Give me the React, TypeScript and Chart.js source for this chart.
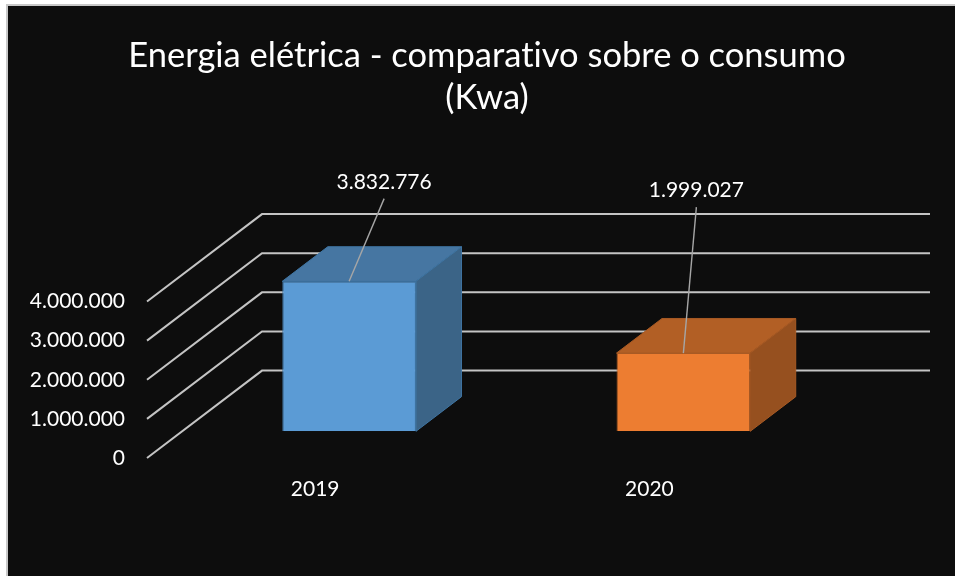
import React, { useEffect, useRef } from "react";
import { Chart, registerables } from "chart.js";

Chart.register(...registerables);

const categories = ["2019", "2020"];
const consumption = [3832776, 1999027];
const yTicks = [0, 1000000, 2000000, 3000000, 4000000];
const titleLines = ["Energia elétrica - comparativo sobre o consumo", "(Kwa)"];
const frontColors = ["#5B9BD5", "#ED7D31"];
const topColors = ["#4676A2", "#B25F25"];
const sideColors = ["#3B6487", "#96501F"];
const edgeColors = ["#3F75A3", "#A85A24"];

const FONT = "Lato, Carlito, Calibri, sans-serif";
const fmt = (v: number) => v.toLocaleString("de-DE");

const GRID = { frontDx: -35, frontDy: 26.7, backDx: 80, backDy: -60.7, rightPad: 79.5 };
const BAR_DEPTH = { dx: 45.5, dy: -34.6 };
const LEADERS = [
  { dx: 35, dy: -82.7, labelDy: -16 },
  { dx: 13, dy: -146, labelDy: -17 },
];
const CATEGORY_LABEL = { dx: -34, y: 489 };
const Y_LABEL_X = 125;

const chart3d = {
  id: "chart3d",
  beforeDraw(chart: any) {
    const { ctx, width, height } = chart;
    ctx.textRendering = "optimizeSpeed";
    ctx.save();
    ctx.fillStyle = "#ffffff";
    ctx.fillRect(0, 0, width, height);
    ctx.fillStyle = "#c8c8c8";
    ctx.fillRect(6, 4, width - 6, height - 4);
    ctx.fillStyle = "#0d0d0d";
    ctx.fillRect(8, 6, width - 8, height - 6);
    ctx.restore();
  },
  afterLayout(chart: any) {
    // centre the title over the chart frame rather than over the plot
    if (chart.titleBlock) {
      chart.titleBlock.left = 7;
      chart.titleBlock.right = 967;
    }
  },
  beforeDatasetsDraw(chart: any) {
    const { ctx, scales, chartArea } = chart;
    const y = scales.y;
    ctx.save();

    // floor / wall gridlines
    ctx.strokeStyle = "#c4c4c4";
    ctx.lineWidth = 2;
    ctx.lineJoin = "miter";
    yTicks.forEach((t) => {
      const py = y.getPixelForValue(t);
      ctx.beginPath();
      ctx.moveTo(chartArea.left + GRID.frontDx, py + GRID.frontDy);
      ctx.lineTo(chartArea.left + GRID.backDx, py + GRID.backDy);
      ctx.lineTo(chartArea.right + GRID.rightPad, py + GRID.backDy);
      ctx.stroke();
    });

    // y tick labels on the front edge
    ctx.fillStyle = "#ffffff";
    ctx.font = `21px ${FONT}`;
    ctx.textAlign = "right";
    ctx.textBaseline = "middle";
    yTicks.forEach((t) => {
      ctx.fillText(fmt(t), Y_LABEL_X, y.getPixelForValue(t) + GRID.frontDy);
    });

    // category labels
    ctx.textAlign = "center";
    const meta = chart.getDatasetMeta(0);
    categories.forEach((c, i) => {
      ctx.fillText(c, meta.data[i].x + CATEGORY_LABEL.dx, CATEGORY_LABEL.y);
    });

    // side and top faces of the bars
    meta.data.forEach((el: any, i: number) => {
      const l = el.x - el.width / 2;
      const r = el.x + el.width / 2;
      const t = el.y;
      const b = el.base;
      ctx.strokeStyle = edgeColors[i];
      ctx.lineWidth = 1;
      ctx.fillStyle = topColors[i];
      ctx.beginPath();
      ctx.moveTo(l, t);
      ctx.lineTo(l + BAR_DEPTH.dx, t + BAR_DEPTH.dy);
      ctx.lineTo(r + BAR_DEPTH.dx, t + BAR_DEPTH.dy);
      ctx.lineTo(r, t);
      ctx.closePath();
      ctx.fill();
      ctx.stroke();
      ctx.fillStyle = sideColors[i];
      ctx.beginPath();
      ctx.moveTo(r, t);
      ctx.lineTo(r + BAR_DEPTH.dx, t + BAR_DEPTH.dy);
      ctx.lineTo(r + BAR_DEPTH.dx, b + BAR_DEPTH.dy);
      ctx.lineTo(r, b);
      ctx.closePath();
      ctx.fill();
      ctx.stroke();
    });
    ctx.restore();
  },
  afterDatasetsDraw(chart: any) {
    const { ctx } = chart;
    const meta = chart.getDatasetMeta(0);
    ctx.save();
    meta.data.forEach((el: any, i: number) => {
      const L = LEADERS[i];
      const ex = el.x + L.dx;
      const ey = el.y + L.dy;
      ctx.strokeStyle = "#a6a6a6";
      ctx.lineWidth = 1.4;
      ctx.beginPath();
      ctx.moveTo(el.x, el.y);
      ctx.lineTo(ex, ey);
      ctx.stroke();
      ctx.fillStyle = "#ffffff";
      ctx.font = `21px ${FONT}`;
      ctx.textAlign = "center";
      ctx.textBaseline = "middle";
      ctx.fillText(fmt(consumption[i]), ex, ey + L.labelDy);
    });
    ctx.restore();
  },
};

export default function App() {
  const ref = useRef<HTMLCanvasElement>(null);
  useEffect(() => {
    document.body.style.margin = "0";
    const chart = new Chart(ref.current as HTMLCanvasElement, {
      type: "bar",
      data: {
        labels: categories,
        datasets: [
          {
            data: consumption,
            backgroundColor: frontColors,
            borderColor: edgeColors,
            borderWidth: 1,
            barPercentage: 0.4,
            categoryPercentage: 1,
          },
        ],
      },
      options: {
        responsive: false,
        animation: false,
        layout: { padding: { left: 182, right: 104.5, top: 0, bottom: 144.7 } },
        scales: {
          x: { display: false },
          y: { display: false, min: 0, max: 4000000 },
        },
        plugins: {
          legend: { display: false },
          tooltip: { enabled: false },
          title: {
            display: true,
            text: titleLines,
            color: "#ffffff",
            font: { family: FONT, size: 34.5, weight: "normal", lineHeight: 1.22 },
            padding: { top: 35, bottom: 155.6 },
          },
        },
      },
      plugins: [chart3d],
    } as any);
    return () => chart.destroy();
  }, []);
  return <canvas ref={ref} width={955} height={576} style={{ display: "block" }} />;
}
